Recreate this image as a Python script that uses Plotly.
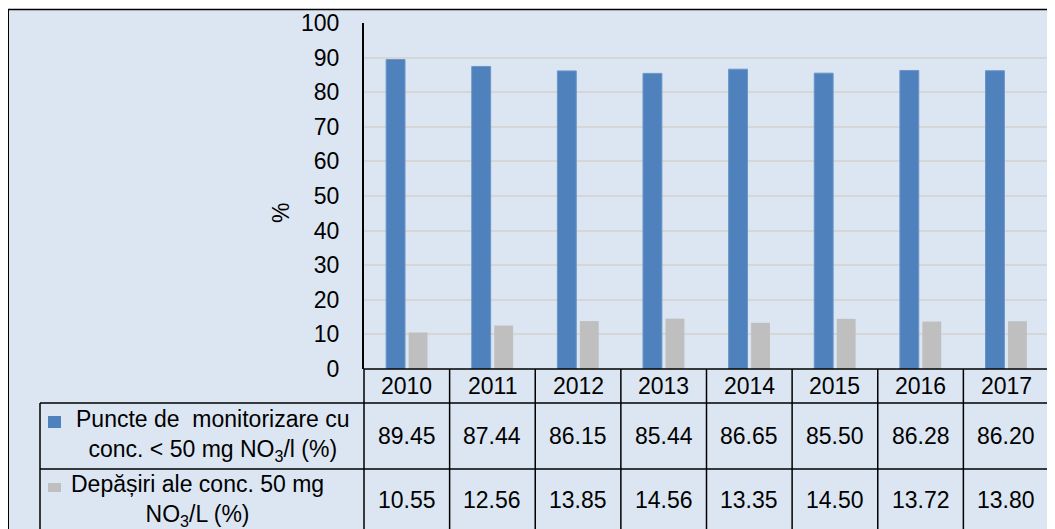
import plotly.graph_objects as go

W, H = 1055, 529

years = ['2010', '2011', '2012', '2013', '2014', '2015', '2016', '2017']
sub50 = [89.45, 87.44, 86.15, 85.44, 86.65, 85.50, 86.28, 86.20]
over50 = [10.55, 12.56, 13.85, 14.56, 13.35, 14.50, 13.72, 13.80]
y_ticks = [0, 10, 20, 30, 40, 50, 60, 70, 80, 90, 100]

BLUE = '#4f81bd'
GREY = '#bfbfbf'
BG = '#dce6f2'
FONT = 'Liberation Sans, Arial, sans-serif'

OFF = 8  # page body margin the figure sits in


def px(x):
    return (x - OFF) / W


def py(y):
    return 1 - (y - OFF) / H


# pixel geometry of the frame (screen coords)
X_AX, X_END, X_LEG = 364, 1049, 40
Y_TOP, Y_ZERO, Y_R1, Y_R2, Y_BOT = 23, 369, 403, 469, 540

fig = go.Figure()
fig.add_trace(go.Bar(x=years, y=sub50, marker=dict(color=BLUE, line=dict(color='#6a95c8', width=1)),
                     name='sub50', showlegend=False))
fig.add_trace(go.Bar(x=years, y=over50, marker=dict(color=GREY, line=dict(width=0)),
                     name='over50', showlegend=False))

shapes = []
# background panel + outer border
shapes.append(dict(type='rect', xref='paper', yref='paper', x0=px(7), x1=px(W + 20), y0=py(H + 20), y1=py(9),
                   fillcolor=BG, line=dict(width=0), layer='below'))
shapes.append(dict(type='line', xref='paper', yref='paper', x0=px(6), x1=px(W + 20), y0=py(9.5), y1=py(9.5),
                   line=dict(color='black', width=1.5)))
shapes.append(dict(type='line', xref='paper', yref='paper', x0=px(7.5), x1=px(7.5), y0=py(9), y1=py(H + 20),
                   line=dict(color='black', width=3)))

line = dict(color='black', width=1.5)
# table horizontal lines
shapes.append(dict(type='line', xref='paper', yref='paper', x0=px(X_AX), x1=px(X_END), y0=py(Y_ZERO), y1=py(Y_ZERO), line=line))
for yy in [Y_R1, Y_R2]:
    shapes.append(dict(type='line', xref='paper', yref='paper', x0=px(X_LEG), x1=px(X_END), y0=py(yy), y1=py(yy), line=line))
# legend column left edge and axis continuation
shapes.append(dict(type='line', xref='paper', yref='paper', x0=px(X_LEG), x1=px(X_LEG), y0=py(Y_R1), y1=py(Y_BOT), line=line))
shapes.append(dict(type='line', xref='paper', yref='paper', x0=px(X_AX), x1=px(X_AX), y0=py(Y_ZERO), y1=py(Y_BOT), line=line))
# column separators, on category boundaries
for i in range(1, len(years) + 1):
    shapes.append(dict(type='line', xref='x', yref='paper', x0=i - 0.5, x1=i - 0.5, y0=py(Y_ZERO), y1=py(Y_BOT), line=line))
# legend keys
shapes.append(dict(type='rect', xref='paper', yref='paper', x0=px(48), x1=px(61), y0=py(428), y1=py(416),
                   fillcolor=BLUE, line=dict(width=0)))
shapes.append(dict(type='rect', xref='paper', yref='paper', x0=px(48), x1=px(61), y0=py(492), y1=py(483),
                   fillcolor=GREY, line=dict(width=0)))

ann = []
fs = 23
for i, yr in enumerate(years):
    ann.append(dict(x=i, y=py((Y_ZERO + Y_R1) / 2), xref='x', yref='paper', text=yr, showarrow=False,
                    font=dict(size=fs), xanchor='center', yanchor='middle'))
    ann.append(dict(x=i, y=py((Y_R1 + Y_R2) / 2), xref='x', yref='paper', text=f'{sub50[i]:.2f}', showarrow=False,
                    font=dict(size=fs), xanchor='center', yanchor='middle'))
    ann.append(dict(x=i, y=py(500), xref='x', yref='paper', text=f'{over50[i]:.2f}', showarrow=False,
                    font=dict(size=fs), xanchor='center', yanchor='middle'))

ann.append(dict(x=px(213), y=py(435), xref='paper', yref='paper', showarrow=False, align='center',
                text='Puncte de&nbsp; monitorizare cu<br>conc. &lt; 50 mg NO<sub>3</sub>/l (%)',
                font=dict(size=fs), xanchor='center', yanchor='middle'))
ann.append(dict(x=px(197), y=py(500), xref='paper', yref='paper', showarrow=False, align='center',
                text='Depășiri ale conc. 50 mg<br>NO<sub>3</sub>/L (%)',
                font=dict(size=fs), xanchor='center', yanchor='middle'))
ann.append(dict(x=px(281), y=py(213), xref='paper', yref='paper', showarrow=False, text='%', textangle=-90,
                font=dict(size=fs), xanchor='center', yanchor='middle'))

fig.update_layout(
    template='none',
    width=W, height=H, margin=dict(l=0, r=0, t=0, b=0, pad=0),
    paper_bgcolor='white', plot_bgcolor='rgba(0,0,0,0)',
    font=dict(family=FONT, color='black', size=fs),
    barmode='group', bargap=0.475, bargroupgap=0.16,
    shapes=shapes, annotations=ann,
    xaxis=dict(type='category', domain=[px(X_AX), px(X_END)], range=[-0.5, len(years) - 0.5],
               showticklabels=False, showgrid=False, zeroline=False, showline=False, ticks='', automargin=False),
    yaxis=dict(domain=[py(Y_ZERO), py(Y_TOP)], range=[0, 100], tickvals=y_ticks, showgrid=True,
               gridcolor='#d6d6d6', gridwidth=1.5, zeroline=False, showline=True, linecolor='black',
               linewidth=2, ticks='', ticklabelstandoff=18, tickfont=dict(size=fs), automargin=False),
)

fig.write_html('out.html')
